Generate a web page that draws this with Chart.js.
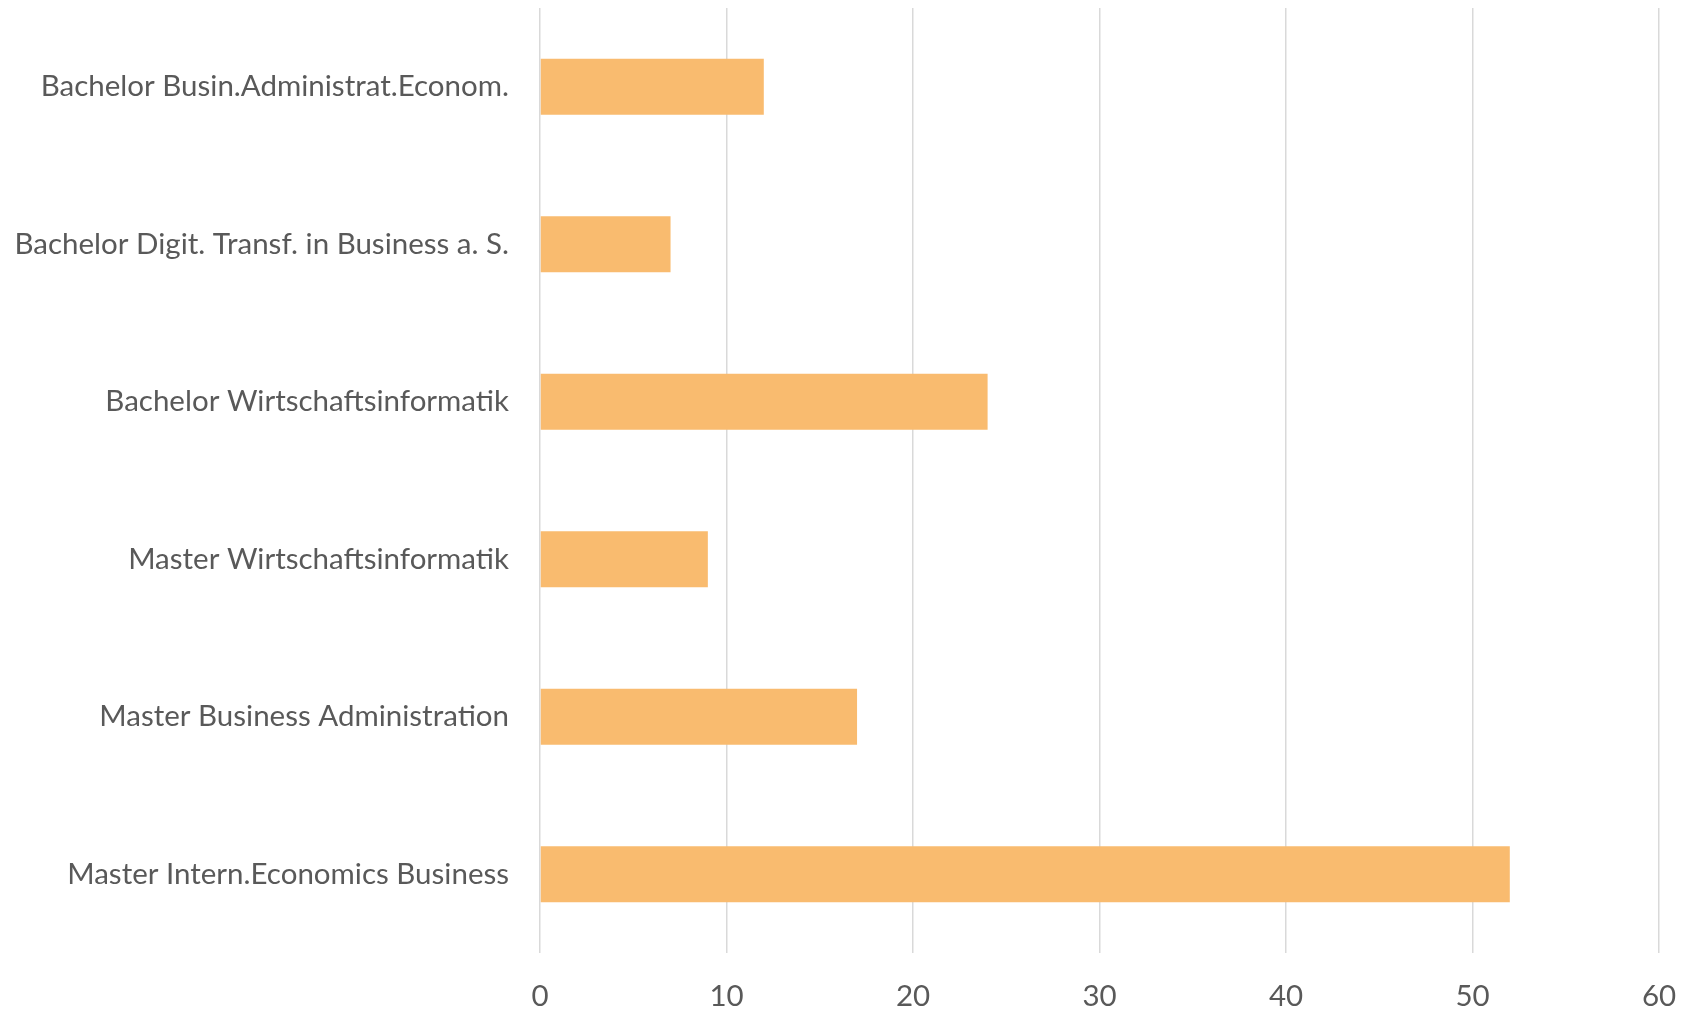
<!DOCTYPE html>
<html>
<head>
<meta charset="utf-8">
<script src="https://cdn.jsdelivr.net/npm/chart.js@4/dist/chart.umd.min.js"></script>
<style>
  body { margin: 0; background: #fff; }
  #wrap { width: 1684px; height: 1011px; }
</style>
</head>
<body>
<div id="wrap"><canvas id="barChart" width="1684" height="1011"></canvas></div>
<script>
// studiengaenge, von oben nach unten
var categories = [
    'Bachelor Busin.Administrat.Econom.',
    'Bachelor Digit. Transf. in Business a. S.',
    'Bachelor Wirtschaftsinformatik',
    'Master Wirtschaftsinformatik',
    'Master Business Administration',
    'Master Intern.Economics Business'
];
var counts = [12, 7, 24, 9, 17, 52];
var xTicks = [0, 10, 20, 30, 40, 50, 60];

var textColor = '#595959';
var gridColor = '#d9d9d9';

// keine automatischen Randabstaende der Achsen
function noPad(scale){
    scale.paddingTop = 0;
    scale.paddingBottom = 0;
    scale.paddingLeft = 0;
    scale.paddingRight = 0;
}

new Chart(document.querySelector('#barChart'), {
    type: 'bar',
    data: {
        labels: categories,
        datasets: [{
            data: counts,
            backgroundColor: '#f9bb6f',
            borderWidth: 0,
            categoryPercentage: 1,
            barPercentage: 0.355
        }]
    },
    options: {
        indexAxis: 'y',
        responsive: false,
        animation: false,
        layout: { padding: { top: 8, right: 25, bottom: 0, left: 0 } },
        plugins: {
            legend: { display: false },
            tooltip: { enabled: false }
        },
        scales: {
            x: {
                min: xTicks[0],
                max: xTicks[xTicks.length - 1],
                afterBuildTicks: function(scale){
                    scale.ticks = xTicks.map(function(v){ return { value: v }; });
                },
                afterFit: function(scale){ scale.height = 58; noPad(scale); },
                border: { display: false },
                grid: { color: gridColor, lineWidth: 1.5, drawTicks: false },
                ticks: {
                    padding: 26,
                    color: textColor,
                    font: { family: 'Lato', size: 29.5 }
                }
            },
            y: {
                afterFit: function(scale){ scale.width = 540; noPad(scale); },
                border: { display: false },
                grid: { display: false, drawTicks: false },
                ticks: {
                    padding: 31,
                    color: textColor,
                    font: { family: 'Lato', size: 29.5 }
                }
            }
        }
    }
});
</script>
</body>
</html>
